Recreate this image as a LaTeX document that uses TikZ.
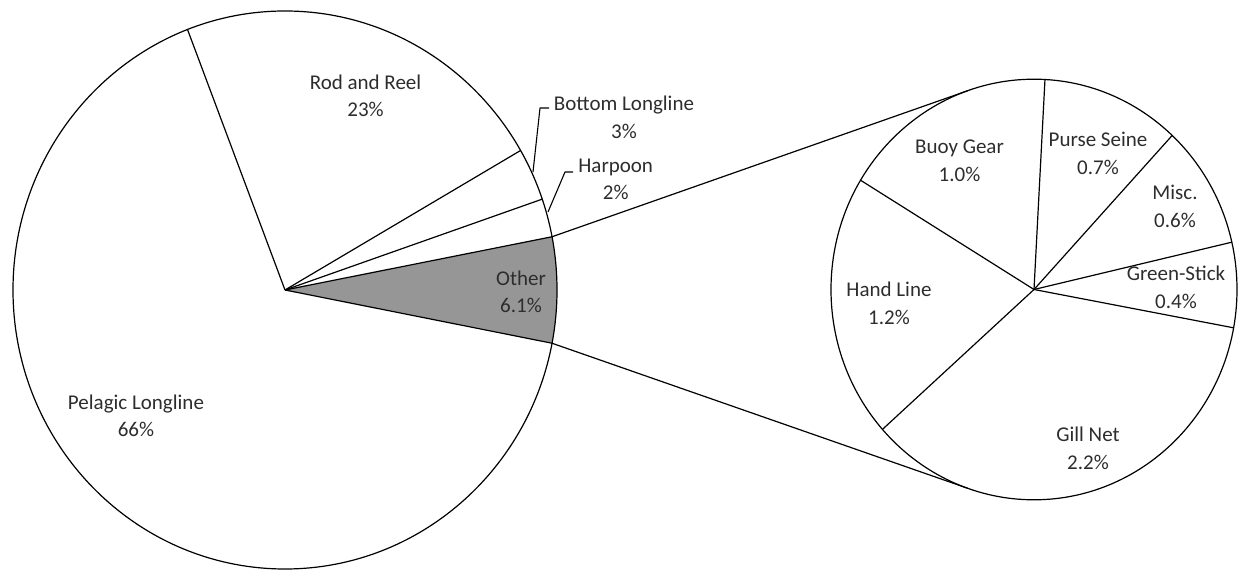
\documentclass[tikz,border=0pt]{standalone}
\usepackage{fontspec}
\setmainfont{Carlito}
\usetikzlibrary{calc}
\definecolor{othergray}{RGB}{150,150,150}
\definecolor{txtgray}{RGB}{45,45,45}
\begin{document}
\begin{tikzpicture}[x=1pt,y=1pt,line width=1.2pt,line join=round,
  lbl/.style={font=\fontsize{21}{27.5}\selectfont,text=txtgray,align=center,inner sep=0pt},
  leader/.style={line width=1.1pt}]
\useasboundingbox (0,0) rectangle (1239,570);
% main pie
\coordinate (O) at (285,280);
\coordinate (m1) at ($(O)+(11:272pt and 279pt)$);
\coordinate (m2) at ($(O)+(-11:272pt and 279pt)$);
\coordinate (m3) at ($(O)+(19:272pt and 279pt)$);
\coordinate (m4) at ($(O)+(30:272pt and 279pt)$);
\coordinate (m5) at ($(O)+(111:272pt and 279pt)$);
\fill[othergray] (O) -- (m2) arc[start angle=-11,end angle=11,x radius=272pt,y radius=279pt] -- cycle;
\draw (O) ellipse [x radius=272pt,y radius=279pt];
\draw (O) -- (m1);
\draw (O) -- (m2);
\draw (O) -- (m3);
\draw (O) -- (m4);
\draw (O) -- (m5);
% small pie
\coordinate (S) at (1034,280.5);
\coordinate (s1) at ($(S)+(86.9:203pt and 210.3pt)$);
\coordinate (s2) at ($(S)+(47.1:203pt and 210.3pt)$);
\coordinate (s3) at ($(S)+(13:203pt and 210.3pt)$);
\coordinate (s4) at ($(S)+(-10.5:203pt and 210.3pt)$);
\coordinate (s5) at ($(S)+(-138.3:203pt and 210.3pt)$);
\coordinate (s6) at ($(S)+(148.7:203pt and 210.3pt)$);
\coordinate (t1) at ($(S)+(109:203pt and 210.3pt)$);
\coordinate (t2) at ($(S)+(251:203pt and 210.3pt)$);
\draw (S) ellipse [x radius=203pt,y radius=210.3pt];
\foreach \k in {1,...,6} {\draw (S) -- (s\k);}
% connectors
\draw (m1) -- (t1);
\draw (m2) -- (t2);
% leaders
\coordinate (b0) at (533,398);
\coordinate (b1) at (540,462);
\coordinate (b2) at (549,462);
\coordinate (h0) at (548,358);
\coordinate (h1) at (565,398);
\coordinate (h2) at (573,398);
\draw[leader] (b0) -- (b1) -- (b2);
\draw[leader] (h0) -- (h1) -- (h2);
% labels
\node[lbl] (rod) at (365.5,474) {Rod and Reel\\23\%};
\node[lbl] (pel) at (136,154) {Pelagic Longline\\66\%};
\node[lbl] (oth) at (521,278) {Other\\6.1\%};
\node[lbl] (bot) at (624,452.5) {Bottom Longline\\3\%};
\node[lbl] (har) at (615.7,390.7) {Harpoon\\2\%};
\node[lbl] (buoy) at (959.5,409) {Buoy Gear\\1.0\%};
\node[lbl] (purse) at (1098,416.5) {Purse Seine\\0.7\%};
\node[lbl] (misc) at (1175,363.5) {Misc.\\0.6\%};
\node[lbl] (green) at (1176,282.5) {Green-Stick\\0.4\%};
\node[lbl] (hand) at (889,266.5) {Hand Line\\1.2\%};
\node[lbl] (gill) at (1088,121.5) {Gill Net\\2.2\%};
\end{tikzpicture}
\end{document}
